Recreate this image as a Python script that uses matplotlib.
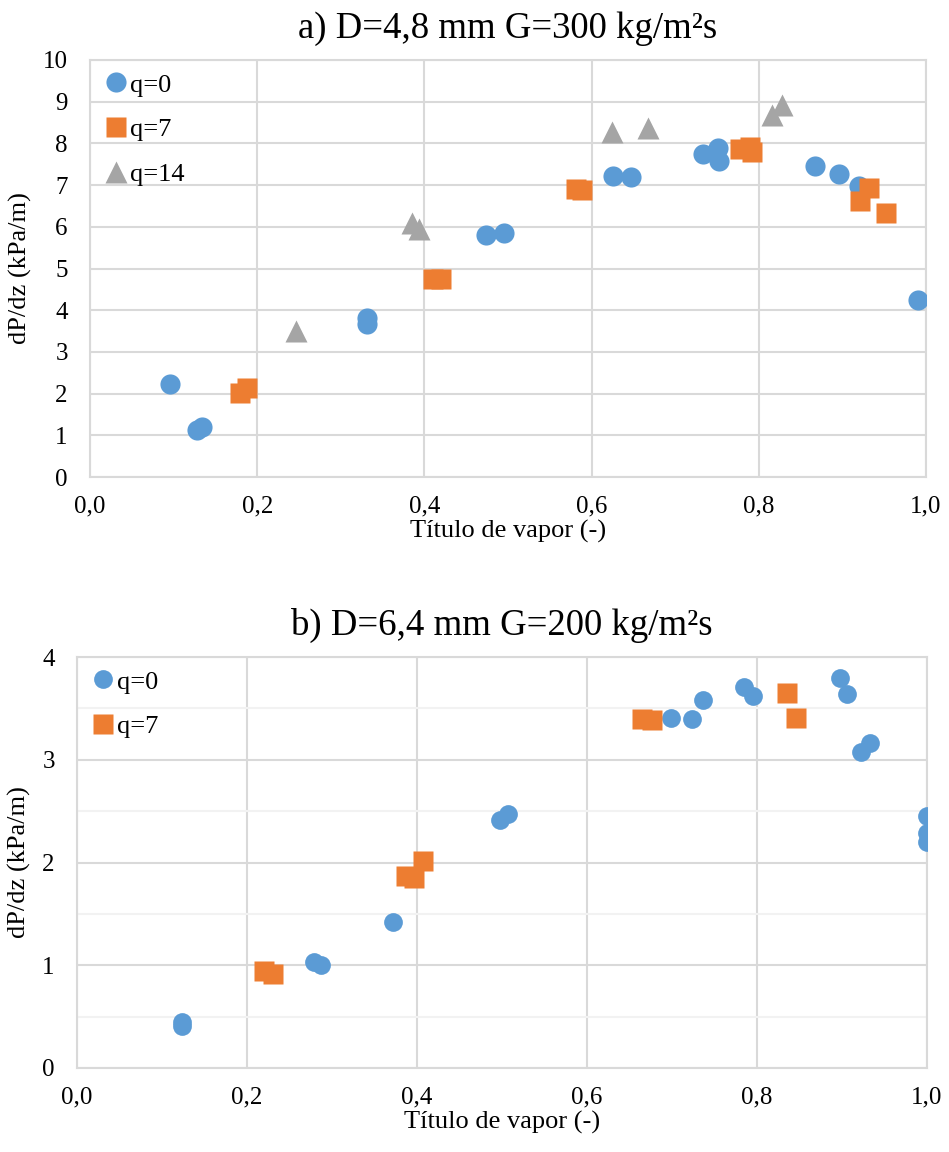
import matplotlib
matplotlib.use("Agg")
import matplotlib.pyplot as plt
from matplotlib.ticker import FuncFormatter, MultipleLocator

plt.rcParams['font.family'] = ['Liberation Serif', 'DejaVu Serif']

BLUE = '#5B9BD5'
ORANGE = '#ED7D31'
GRAY = '#A5A5A5'
GRID = '#D9D9D9'

# a) D=4,8 mm G=300
a_x_q0 = [0.096, 0.128, 0.134, 0.331, 0.331, 0.474, 0.495, 0.626, 0.647, 0.733, 0.751, 0.752,
          0.867, 0.896, 0.920, 0.990]
a_y_q0 = [2.24, 1.13, 1.21, 3.82, 3.67, 5.80, 5.86, 7.23, 7.20, 7.75, 7.90, 7.58,
          7.47, 7.26, 6.98, 4.24]
a_x_q7 = [0.180, 0.188, 0.410, 0.420, 0.581, 0.588, 0.777, 0.790, 0.792, 0.932, 0.921, 0.952]
a_y_q7 = [2.02, 2.13, 4.76, 4.74, 6.90, 6.88, 7.86, 7.92, 7.79, 6.92, 6.62, 6.33]
a_x_q14 = [0.247, 0.385, 0.394, 0.624, 0.667, 0.816, 0.828]
a_y_q14 = [3.49, 6.08, 5.94, 8.28, 8.36, 8.68, 8.92]

# b) D=6,4 mm G=200
b_x_q0 = [0.124, 0.124, 0.279, 0.287, 0.372, 0.498, 0.507, 0.699, 0.724, 0.736, 0.785, 0.795,
          0.898, 0.906, 0.922, 0.933, 1.0, 1.0, 1.0]
b_y_q0 = [0.41, 0.45, 1.035, 1.00, 1.42, 2.41, 2.47, 3.41, 3.395, 3.58, 3.71, 3.62,
          3.80, 3.64, 3.08, 3.16, 2.45, 2.29, 2.20]
b_x_q7 = [0.220, 0.230, 0.387, 0.397, 0.407, 0.665, 0.677, 0.835, 0.846]
b_y_q7 = [0.94, 0.91, 1.87, 1.85, 2.01, 3.395, 3.39, 3.65, 3.41]

W, H = 949, 1152
fig = plt.figure(figsize=(W / 100, H / 100), dpi=100)


def rect(l, t, r, b):
    return [l / W, 1 - b / H, (r - l) / W, (b - t) / H]


comma = FuncFormatter(lambda v, p: f"{v:.1f}".replace('.', ','))


def style(ax, title, ymax, ystep, minor=None):
    ax.set_xlim(0, 1.0)
    ax.set_ylim(0, ymax)
    ax.xaxis.set_major_locator(MultipleLocator(0.2))
    ax.yaxis.set_major_locator(MultipleLocator(ystep))
    ax.xaxis.set_major_formatter(comma)
    ax.grid(True, color=GRID, lw=1.5, zorder=0)
    if minor:
        ax.yaxis.set_minor_locator(MultipleLocator(minor))
        ax.grid(True, which='minor', axis='y', color='#F2F2F2', lw=1.5, zorder=0)
    ax.set_axisbelow(True)
    for s in ax.spines.values():
        s.set_color(GRID)
        s.set_linewidth(1.5)
    ax.tick_params(length=0, labelsize=18, which='both')
    ax.tick_params(axis='x', pad=13)
    ax.tick_params(axis='y', pad=16)
    ax.set_title(title, fontsize=26.5, pad=16)
    ax.set_xlabel("Título de vapor (-)", fontsize=19, labelpad=2)
    ax.set_ylabel("dP/dz (kPa/m)", fontsize=19, labelpad=8)
    ax.legend(loc='upper left', frameon=False, fontsize=19, handletextpad=0.0,
              labelspacing=0.8, borderaxespad=0.1, handlelength=1.0,
              bbox_to_anchor=(0.0, 1.0))


ax1 = fig.add_axes(rect(90, 60, 926, 477))
ax1.plot(a_x_q0, a_y_q0, 'o', color=BLUE, ms=14.5, mec='none', label='q=0', zorder=3)
ax1.plot(a_x_q7, a_y_q7, 's', color=ORANGE, ms=14.5, mec='none', label='q=7', zorder=3)
ax1.plot(a_x_q14, a_y_q14, '^', color=GRAY, ms=16, mec='none', label='q=14', zorder=3)
style(ax1, "a) D=4,8 mm G=300 kg/m²s", 10, 1)

ax2 = fig.add_axes(rect(77, 657, 927, 1068))
ax2.plot(b_x_q0, b_y_q0, 'o', color=BLUE, ms=13.5, mec='none', label='q=0', zorder=3)
ax2.plot(b_x_q7, b_y_q7, 's', color=ORANGE, ms=14.5, mec='none', label='q=7', zorder=3)
style(ax2, "b) D=6,4 mm G=200 kg/m²s", 4, 1, minor=0.5)

fig.savefig("out.png", dpi=100)
